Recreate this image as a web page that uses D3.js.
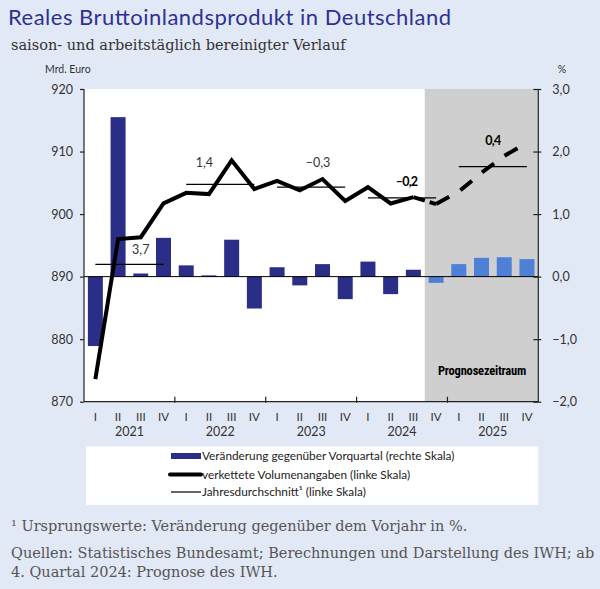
<!DOCTYPE html>
<html><head><meta charset="utf-8">
<script src="https://cdn.jsdelivr.net/npm/d3@7"></script>
<style>
html,body{margin:0;padding:0;background:#e2e9f6;}
svg{display:block;}
</style></head>
<body>
<svg id="chart" width="600" height="589"></svg>
<script>
// ---- data ----
const quarters = ["I","II","III","IV","I","II","III","IV","I","II","III","IV","I","II","III","IV","I","II","III","IV"];
const years = ["2021","2022","2023","2024","2025"];
const changeQoQ = [-1.11, 2.55, 0.05, 0.62, 0.18, 0.02, 0.59, -0.51, 0.15, -0.14, 0.20, -0.36, 0.24, -0.28, 0.11, -0.10, 0.20, 0.30, 0.31, 0.28];
const volume = [873.6, 896.0, 896.3, 901.7, 903.4, 903.2, 908.6, 904.0, 905.3, 903.8, 905.6, 902.1, 904.3, 901.7, 902.7, 901.6, 903.6, 906.6, 909.3, 911.4];
const forecastStart = 15; // index of first forecast quarter (2024 IV)
const annualLevel = [891.95, 904.75, 904.3, 902.6, 907.6];
const annualLabel = ["3,7", "1,4", "\u20130,3", "\u20130,2", "0,4"];
const leftTicks = [870, 880, 890, 900, 910, 920];
const rightTicks = [-2, -1, 0, 1, 2, 3];
const legendItems = ["Veränderung gegenüber Vorquartal (rechte Skala)", "verkettete Volumenangaben (linke Skala)", "Jahresdurchschnitt\u00B9 (linke Skala)"];

// ---- layout ----
const svg = d3.select("#chart");
const L = 84, R = 538.3, T = 89, B = 401.7;
const font = "'Lato', 'Open Sans', sans-serif";
const idx = d3.range(quarters.length);
const x = d3.scaleBand().domain(idx).range([L, R]).paddingInner(0.34).paddingOuter(0.17);
const xc = i => x(i) + x.bandwidth() / 2;
const yL = d3.scaleLinear().domain([870, 920]).range([B, T]);
const yR = d3.scaleLinear().domain([-2, 3]).range([B, T]);
const bandW = (R - L) / quarters.length;

// title
svg.append("text").attr("x", 8).attr("y", 25).attr("font-family", font).attr("font-size", 22)
  .attr("textLength", 443).attr("lengthAdjust", "spacing")
  .attr("fill", "#2e3192").text("Reales Bruttoinlandsprodukt in Deutschland");
svg.append("text").attr("x", 11).attr("y", 50).attr("font-family", "'DejaVu Serif', 'Liberation Serif', serif").attr("font-size", 14.5)
  .attr("fill", "#333").text("saison- und arbeitstäglich bereinigter Verlauf");

// plot background
svg.append("rect").attr("x", L).attr("y", T).attr("width", R - L).attr("height", B - T).attr("fill", "#fff");
svg.append("rect").attr("x", L + forecastStart * bandW).attr("y", T).attr("width", R - L - forecastStart * bandW).attr("height", B - T).attr("fill", "#cfcfcf");

// bars
svg.append("g").selectAll("rect").data(changeQoQ).join("rect")
  .attr("x", (d, i) => x(i)).attr("width", x.bandwidth())
  .attr("y", d => yR(Math.max(0, d))).attr("height", d => Math.abs(yR(d) - yR(0)))
  .attr("fill", (d, i) => i >= forecastStart ? "#4f80d8" : "#2b2e86");

// zero line
svg.append("line").attr("x1", L).attr("x2", R).attr("y1", yR(0)).attr("y2", yR(0)).attr("stroke", "#000").attr("stroke-width", 1);

// annual averages
annualLevel.forEach((v, k) => {
  svg.append("line").attr("x1", xc(k * 4)).attr("x2", xc(k * 4 + 3))
    .attr("y1", yL(v)).attr("y2", yL(v)).attr("stroke", "#000").attr("stroke-width", 1.2);
});
const labelPos = [[2.0, 894.4], [4.8, 908.2], [9.8, 908.2], [13.7, 905.2], [17.5, 911.8]];
annualLabel.forEach((t, k) => {
  const bold = k >= 3;
  svg.append("text").attr("x", L + (labelPos[k][0] + 0.5) * bandW).attr("y", yL(labelPos[k][1]) + 4.5)
    .attr("text-anchor", "middle").attr("font-family", font).attr("font-size", 12.5)
    .attr("font-weight", bold ? "bold" : "normal").attr("fill", bold ? "#000" : "#333")
    .attr("letter-spacing", bold ? -0.8 : 0).text(t);
});

// volume line
const line = d3.line().x((d, i) => xc(d[0])).y(d => yL(d[1]));
const pts = volume.map((v, i) => [i, v]);
svg.append("path").attr("d", line(pts.slice(0, forecastStart))).attr("fill", "none")
  .attr("stroke", "#000").attr("stroke-width", 4).attr("stroke-linejoin", "miter");
svg.append("path").attr("d", line(pts.slice(forecastStart - 1, forecastStart + 1)))
  .attr("fill", "none").attr("stroke", "#000").attr("stroke-width", 4)
  .attr("stroke-dasharray", "12,5,14,10");
svg.append("path").attr("d", line(pts.slice(forecastStart))).attr("fill", "none")
  .attr("stroke", "#000").attr("stroke-width", 4).attr("stroke-dasharray", "15,13");

// Prognosezeitraum
svg.append("text").attr("x", 482).attr("y", 375).attr("text-anchor", "middle")
  .attr("font-family", "'Liberation Sans Narrow', 'Roboto Condensed', 'Liberation Sans', sans-serif")
  .attr("font-size", 12.5).attr("font-weight", "bold").attr("letter-spacing", -0.2).attr("fill", "#000").text("Prognosezeitraum");

// axes
const axL = svg.append("g").attr("transform", `translate(${L},0)`)
  .call(d3.axisLeft(yL).tickValues(leftTicks).tickSize(4).tickPadding(7).tickFormat(d3.format("d")));
const axR = svg.append("g").attr("transform", `translate(${R},0)`)
  .call(d3.axisRight(yR).tickValues(rightTicks).tickSize(3).tickPadding(11)
    .tickFormat(d => (d < 0 ? "\u2212" : "") + Math.abs(d).toFixed(1).replace(".", ",")));
axR.selectAll(".tick line").attr("x1", -5);
[axL, axR].forEach(a => {
  a.select(".domain").attr("stroke", "#222").attr("stroke-width", 1.2);
  a.selectAll(".tick line").attr("stroke", "#222").attr("stroke-width", 1.2);
  a.selectAll("text").attr("font-family", font).attr("font-size", 12.5).attr("fill", "#333");
});
axL.selectAll(".domain").attr("d", `M-0,${T}V${B}`);
axR.selectAll(".domain").attr("d", `M0,${T}V${B}`);

// bottom axis
const gB = svg.append("g");
gB.append("line").attr("x1", L).attr("x2", R).attr("y1", B).attr("y2", B).attr("stroke", "#222").attr("stroke-width", 1.2);
years.forEach((yr, k) => {
  if (k > 0) gB.append("line").attr("x1", L + k * 4 * bandW).attr("x2", L + k * 4 * bandW)
    .attr("y1", B - 5).attr("y2", B + 1).attr("stroke", "#222").attr("stroke-width", 1.2);
  gB.append("text").attr("x", L + (k * 4 + 2) * bandW).attr("y", 436).attr("text-anchor", "middle")
    .attr("font-family", font).attr("font-size", 12.5).attr("fill", "#333").text(yr);
});
quarters.forEach((q, i) => {
  gB.append("text").attr("x", xc(i)).attr("y", 421).attr("text-anchor", "middle")
    .attr("font-family", font).attr("font-size", 11.5).attr("fill", "#333").text(q);
});

// axis titles
svg.append("text").attr("x", 45).attr("y", 73).attr("font-family", font).attr("font-size", 10.5).attr("fill", "#333").text("Mrd. Euro");
svg.append("text").attr("x", 562).attr("y", 73).attr("text-anchor", "middle").attr("font-family", font).attr("font-size", 10.5).attr("fill", "#333").text("%");

// legend
svg.append("rect").attr("x", 86).attr("y", 446.5).attr("width", R - 86).attr("height", 58.5).attr("fill", "#fff");
const lg = svg.append("g");
const ly = [456, 474.5, 492];
lg.append("rect").attr("x", 171).attr("y", ly[0] - 3).attr("width", 30).attr("height", 6).attr("fill", "#2b2e86");
lg.append("line").attr("x1", 170).attr("x2", 201).attr("y1", ly[1]).attr("y2", ly[1]).attr("stroke", "#000").attr("stroke-width", 4).attr("stroke-linecap", "round");
lg.append("line").attr("x1", 171).attr("x2", 201).attr("y1", ly[2]).attr("y2", ly[2]).attr("stroke", "#000").attr("stroke-width", 1.2);
legendItems.forEach((t, k) => {
  lg.append("text").attr("x", 202).attr("y", ly[k] + 4).attr("font-family", font).attr("font-size", 11.8).attr("fill", "#222").text(t);
});

// footnotes
const serif = "'DejaVu Serif', 'Liberation Serif', serif";
svg.append("text").attr("x", 11).attr("y", 531).attr("font-family", serif).attr("font-size", 14.5).attr("fill", "#555")
  .text("\u00B9 Ursprungswerte: Veränderung gegenüber dem Vorjahr in %.");
svg.append("text").attr("x", 11).attr("y", 558).attr("font-family", serif).attr("font-size", 14.5).attr("fill", "#555")
  .text("Quellen: Statistisches Bundesamt; Berechnungen und Darstellung des IWH; ab");
svg.append("text").attr("x", 11).attr("y", 577).attr("font-family", serif).attr("font-size", 14.5).attr("fill", "#555")
  .text("4. Quartal 2024: Prognose des IWH.");
</script>
</body></html>
